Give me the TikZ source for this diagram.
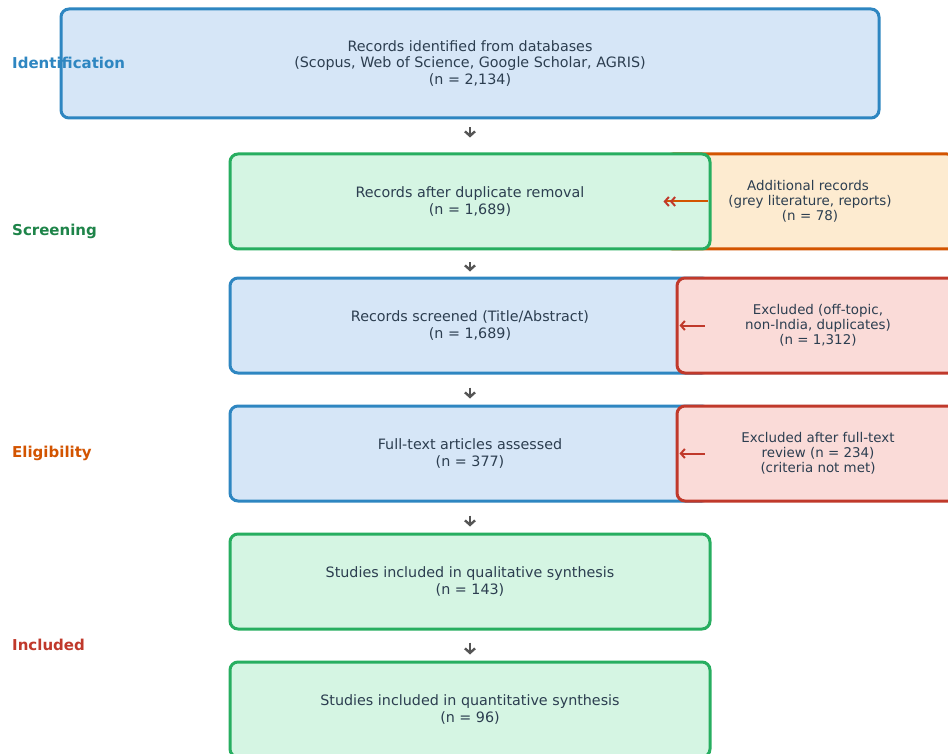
\documentclass[tikz,border=0pt]{standalone}
\usepackage{fontspec}
\setmainfont{DejaVu Sans}
\usetikzlibrary{arrows.meta}
\definecolor{bluebd}{HTML}{2E86C1}
\definecolor{bluefill}{HTML}{D6E6F7}
\definecolor{greenbd}{HTML}{27AE60}
\definecolor{greenfill}{HTML}{D5F5E3}
\definecolor{greenlbl}{HTML}{1E8449}
\definecolor{orangebd}{HTML}{D35400}
\definecolor{orangefill}{HTML}{FDEBD0}
\definecolor{redbd}{HTML}{C0392B}
\definecolor{redfill}{HTML}{FADBD8}
\definecolor{txt}{HTML}{2C3E50}
\definecolor{arrowgray}{HTML}{555555}
\begin{document}
\begin{tikzpicture}[x=1pt,y=-1pt,
  box/.style={rounded corners=8pt, line width=3pt, align=center, text=txt,
    font=\fontsize{14.3}{16.5}\selectfont, inner sep=0pt},
  bluebox/.style={box, draw=bluebd, fill=bluefill},
  greenbox/.style={box, draw=greenbd, fill=greenfill},
  orangebox/.style={box, draw=orangebd, fill=orangefill, font=\fontsize{13.4}{15}\selectfont},
  redbox/.style={box, draw=redbd, fill=redfill, font=\fontsize{13.4}{15}\selectfont},
  phase/.style={anchor=west, font=\bfseries\fontsize{15}{17}\selectfont, inner sep=0pt},
  dn/.style={arrowgray, line width=1.8pt, -{Straight Barb[length=4.5pt,width=10pt,line width=2.4pt]}},
  lft/.style={redbd, line width=2pt, -{Straight Barb[length=4pt,width=9pt,line width=2pt]}},
  lft2/.style={orangebd, line width=2pt, -{Straight Barb[length=4pt,width=9pt,line width=2pt,color=redbd] Straight Barb[length=4pt,width=9pt,line width=2pt,color=redbd]}}
]
\useasboundingbox[fill=white] (0,0) rectangle (948,754);

\node[bluebox, minimum width=818pt, minimum height=109pt] (ident) at (470,63.5)
  {Records identified from databases\\(Scopus, Web of Science, Google Scholar, AGRIS)\\(n = 2,134)};

\node[orangebox, minimum width=290pt, minimum height=95pt, text width=200pt] (addl) at (810,201.5)
  {\hspace*{-4pt}Additional records\\(grey literature, reports)\\(n = 78)};
\node[greenbox, minimum width=480pt, minimum height=95pt] (dup) at (470,201.5)
  {Records after duplicate removal\\(n = 1,689)};

\node[bluebox, minimum width=480pt, minimum height=95pt] (scr) at (470,325.5)
  {Records screened (Title/Abstract)\\(n = 1,689)};
\node[redbox, minimum width=282pt, minimum height=95pt] (exc1) at (818,325.5)
  {Excluded (off-topic,\\non-India, duplicates)\\(n = 1,312)};

\node[bluebox, minimum width=480pt, minimum height=95pt] (full) at (470,453.5)
  {Full-text articles assessed\\(n = 377)};
\node[redbox, minimum width=282pt, minimum height=95pt] (exc2) at (818,453.5)
  {Excluded after full-text\\review (n = 234)\\(criteria not met)};

\node[greenbox, minimum width=480pt, minimum height=95pt] (qual) at (470,581.5)
  {Studies included in qualitative synthesis\\(n = 143)};
\node[greenbox, minimum width=480pt, minimum height=95pt] (quant) at (470,709.5)
  {Studies included in quantitative synthesis\\(n = 96)};

\node[phase, text=bluebd] (l1) at (12,63) {Identification};
\node[phase, text=greenlbl] (l2) at (12,231) {Screening};
\node[phase, text=orangebd] (l3) at (12,453) {Eligibility};
\node[phase, text=redbd] (l4) at (12,645) {Included};

\draw[dn] ([yshift=-8pt]ident.south) -- ([yshift=-18pt]ident.south);
\draw[dn] ([yshift=-12pt]dup.south) -- ([yshift=-21pt]dup.south);
\draw[dn] ([yshift=-13pt]scr.south) -- ([yshift=-24pt]scr.south);
\draw[dn] ([yshift=-13pt]full.south) -- ([yshift=-24pt]full.south);
\draw[dn] ([yshift=-12pt]qual.south) -- ([yshift=-24pt]qual.south);

\draw[lft2] ([xshift=-4pt]dup.east) -- ([xshift=-48pt]dup.east);
\draw[lft] ([xshift=29pt]exc1.west) -- ([xshift=4pt]exc1.west);
\draw[lft] ([xshift=29pt]exc2.west) -- ([xshift=4pt]exc2.west);
\end{tikzpicture}
\end{document}
